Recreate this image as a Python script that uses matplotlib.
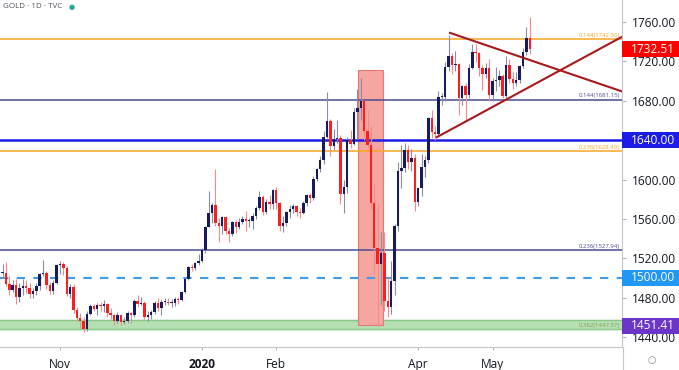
import matplotlib.pyplot as plt
import matplotlib.transforms as mtransforms
from matplotlib.patches import Rectangle
import numpy as np
import pandas as pd

plt.rcParams['font.family'] = ['Open Sans', 'DejaVu Sans']

# daily bars, Oct 8 2019 .. May 18 2020 (no bar on Dec 25 / Jan 1)
dates = pd.bdate_range('2019-10-08', '2020-05-18')
dates = dates[~dates.isin(pd.to_datetime(['2019-12-25', '2020-01-01']))]

opens = [
    1494, 1505, 1505, 1494, 1488, 1493, 1481, 1490, 1492, 1490, 1484, 1487, 1492, 1504, 1505, 1493, 1487, 1495,
    1513, 1514, 1510, 1484, 1491, 1467, 1459, 1456, 1448, 1463, 1471, 1468, 1472, 1471, 1474, 1464, 1462, 1456, 1462, 1455, 1456,
    1464, 1462, 1477, 1474, 1475, 1460, 1462, 1465, 1475, 1469, 1476, 1476, 1475, 1475, 1479, 1478, 1486, 1499, 1511, 1510, 1515,
    1517, 1528, 1552, 1566, 1574, 1556, 1553, 1562, 1548, 1545, 1557, 1552, 1557, 1560, 1558, 1558, 1563, 1571, 1582, 1567, 1577, 1575,
    1589, 1576, 1553, 1556, 1567, 1570, 1573, 1567, 1566, 1576, 1584, 1581, 1601, 1611, 1620, 1643, 1659, 1634, 1641, 1642,
    1585, 1592, 1640, 1636, 1669, 1673, 1680, 1649, 1635, 1576, 1530, 1514, 1525, 1477, 1470, 1497, 1553, 1609, 1612, 1630, 1618, 1622,
    1577, 1591, 1613, 1620, 1663, 1648, 1646, 1684, 1684, 1714, 1726, 1716, 1717, 1683, 1695, 1686, 1713, 1730, 1729, 1713, 1707, 1713,
    1686, 1700, 1701, 1705, 1685, 1716, 1702, 1698, 1701, 1715, 1730, 1744,
]
highs = [
    1507, 1514, 1516, 1502, 1498, 1499, 1495, 1499, 1498, 1495, 1490, 1495, 1505, 1518, 1507, 1496, 1498, 1514,
    1517, 1516, 1512, 1494, 1494, 1470, 1464, 1460, 1466, 1474, 1473, 1475, 1476, 1478, 1475, 1469, 1463, 1465, 1463, 1460, 1466,
    1465, 1479, 1483, 1481, 1477, 1466, 1467, 1477, 1480, 1479, 1480, 1480, 1479, 1481, 1481, 1487, 1500, 1512, 1514, 1516, 1524,
    1530, 1553, 1588, 1576, 1611, 1561, 1563, 1563, 1551, 1558, 1559, 1561, 1563, 1568, 1561, 1566, 1573, 1588, 1584, 1580, 1584, 1590,
    1592, 1577, 1563, 1568, 1574, 1575, 1574, 1571, 1578, 1585, 1586, 1604, 1612, 1624, 1649, 1689, 1661, 1651, 1660, 1645,
    1600, 1643, 1650, 1673, 1692, 1703, 1681, 1671, 1654, 1595, 1575, 1547, 1547, 1500, 1517, 1555, 1618, 1635, 1637, 1635, 1631, 1626,
    1592, 1626, 1624, 1664, 1671, 1654, 1690, 1688, 1719, 1747, 1729, 1731, 1718, 1696, 1698, 1717, 1738, 1738, 1730, 1716, 1718, 1722,
    1703, 1714, 1711, 1707, 1726, 1722, 1709, 1709, 1716, 1734, 1755, 1765,
]
lows = [
    1490, 1500, 1492, 1483, 1486, 1474, 1476, 1483, 1485, 1480, 1480, 1483, 1488, 1502, 1489, 1484, 1484, 1494,
    1504, 1503, 1482, 1480, 1464, 1456, 1449, 1445, 1446, 1462, 1466, 1462, 1466, 1465, 1460, 1458, 1452, 1454, 1452, 1453, 1454,
    1454, 1460, 1470, 1472, 1458, 1456, 1458, 1463, 1466, 1462, 1472, 1472, 1470, 1471, 1474, 1477, 1485, 1498, 1507, 1508, 1513,
    1516, 1525, 1552, 1556, 1553, 1536, 1545, 1545, 1536, 1543, 1546, 1550, 1555, 1548, 1552, 1550, 1560, 1569, 1564, 1565, 1570, 1570,
    1570, 1548, 1547, 1553, 1561, 1566, 1563, 1561, 1565, 1573, 1576, 1579, 1598, 1608, 1616, 1642, 1624, 1630, 1637, 1575,
    1566, 1586, 1632, 1635, 1641, 1660, 1640, 1632, 1570, 1504, 1451, 1472, 1466, 1460, 1463, 1483, 1548, 1591, 1608, 1611, 1609, 1568,
    1573, 1583, 1603, 1617, 1642, 1640, 1644, 1676, 1680, 1710, 1707, 1710, 1666, 1676, 1659, 1683, 1712, 1719, 1705, 1691, 1703, 1680,
    1680, 1690, 1695, 1683, 1683, 1698, 1692, 1695, 1698, 1713, 1727, 1728,
]
closes = [
    1505, 1505, 1494, 1488, 1493, 1481, 1490, 1492, 1490, 1484, 1487, 1492, 1504, 1505, 1493, 1487, 1495, 1513,
    1514, 1510, 1484, 1491, 1467, 1459, 1456, 1448, 1463, 1471, 1468, 1472, 1471, 1474, 1464, 1462, 1456, 1462, 1455, 1456, 1464,
    1462, 1477, 1474, 1475, 1460, 1462, 1465, 1475, 1469, 1476, 1476, 1475, 1475, 1479, 1478, 1486, 1499, 1511, 1510, 1515, 1517,
    1528, 1552, 1566, 1574, 1556, 1553, 1562, 1548, 1545, 1557, 1552, 1557, 1560, 1558, 1558, 1563, 1571, 1582, 1567, 1577, 1575, 1589,
    1576, 1553, 1556, 1567, 1570, 1573, 1567, 1566, 1576, 1584, 1581, 1601, 1611, 1620, 1643, 1659, 1634, 1641, 1642, 1585,
    1592, 1640, 1636, 1669, 1673, 1680, 1649, 1635, 1576, 1530, 1514, 1525, 1477, 1470, 1497, 1553, 1609, 1612, 1630, 1618, 1622, 1577,
    1591, 1613, 1620, 1663, 1648, 1646, 1684, 1684, 1714, 1726, 1716, 1717, 1683, 1695, 1686, 1713, 1730, 1729, 1713, 1707, 1713, 1686,
    1700, 1701, 1705, 1685, 1716, 1702, 1698, 1701, 1715, 1730, 1744, 1732.51,
]

# horizontal studies
fib_levels = [1742.50, 1681.15, 1628.49, 1527.94]
fib_labels = ['0.144(1742.50)', '0.144(1681.15)', '0.236(1628.49)', '0.236(1527.94)']
fib_colors = ['#f5a623', '#4a4a94', '#f5a623', '#4a4a94']
support_zone = [1448, 1457]
support_label = '0.382(1447.57)'
level_1640 = 1640
level_1500 = 1500

# March highlight box (bar index, price) and triangle trendlines
box_x = [106.2, 113.6]
box_y = [1452, 1711]
tri_upper_x = [133.4, 184.3]
tri_upper_y = [1749, 1689.5]
tri_lower_x = [129.5, 184.3]
tri_lower_y = [1643, 1745]

# price tags on the right scale
tag_values = [1732.51, 1640.00, 1500.00, 1451.41]
tag_colors = ['#ff0000', '#1c1ce8', '#2196f3', '#6a35c8']

month_ticks = ['2019-11', '2020-01', '2020-02', '2020-04', '2020-05']
month_labels = ['Nov', '2020', 'Feb', 'Apr', 'May']

o = np.array(opens, float)
h = np.array(highs, float)
l = np.array(lows, float)
c = np.array(closes, float)
x = np.arange(len(dates))
up = c >= o

fig = plt.figure(figsize=(6.79, 3.70), dpi=100)
ax = fig.add_axes([0, 23 / 370, 622 / 679, 347 / 370])
ax.set_xlim(0.25, 184.3)
ax.set_ylim(1429.8, 1782.4)

# zones and lines
ax.axhspan(support_zone[0], support_zone[1], color='#b5e0b3', zorder=1)
ax.axhline(support_zone[0], color='#8cc78a', lw=1, zorder=1.1)
ax.axhline(support_zone[1], color='#8cc78a', lw=1, zorder=1.1)
ax.add_patch(Rectangle((box_x[0], box_y[0]), box_x[1] - box_x[0], box_y[1] - box_y[0],
                       facecolor='#f5a6a0', edgecolor='#e27a74', lw=0.8, zorder=1.2))
for lev, col in zip(fib_levels, fib_colors):
    ax.axhline(lev, color=col, lw=1.1, zorder=1.5)
ax.axhline(level_1640, color='#1c1ce8', lw=1.8, zorder=1.5)
ax.axhline(level_1500, color='#3d9be9', lw=1.5, ls=(0, (4, 4)), zorder=1.5)

# candles
ax.vlines(x[up], l[up], h[up], color='#8a8ca8', lw=0.8, zorder=2)
ax.vlines(x[~up], l[~up], h[~up], color='#f58a8a', lw=0.8, zorder=2)
body = np.maximum(np.abs(c - o), 0.8)
ax.bar(x[up], body[up], bottom=np.minimum(o, c)[up], width=0.72, color='#161b5e', zorder=3)
ax.bar(x[~up], body[~up], bottom=np.minimum(o, c)[~up], width=0.72, color='#fb1e1e', zorder=3)

# triangle
ax.plot(tri_upper_x, tri_upper_y, color='#a8181c', lw=1.5, zorder=4)
ax.plot(tri_lower_x, tri_lower_y, color='#a8181c', lw=1.5, zorder=4)

# fib labels
for lev, lab, col in zip(fib_levels, fib_labels, fib_colors):
    ax.text(183.6, lev + 1.5, lab, ha='right', va='bottom', fontsize=4.3, color=col, zorder=5)
ax.text(183.6, support_zone[0] + 1.2, support_label, ha='right', va='bottom',
        fontsize=4.3, color='#8a9a50', zorder=5)

# axes styling
for side in ['top', 'left']:
    ax.spines[side].set_visible(False)
for side in ['bottom', 'right']:
    ax.spines[side].set_color('#c5c7cc')
ax.yaxis.tick_right()
ax.set_yticks(np.arange(1440, 1761, 40))
ax.set_yticklabels(['%.2f' % v for v in np.arange(1440, 1761, 40)])
ax.tick_params(axis='y', length=3, width=0.8, color='#b2b5be', pad=4,
               labelsize=8.6, labelcolor='#131722')

month_str = dates.strftime('%Y-%m')
tick_pos = [int(np.argmax(month_str == m)) for m in month_ticks]
ax.set_xticks(tick_pos)
ax.set_xticklabels(month_labels)
ax.tick_params(axis='x', length=2, width=0.8, color='#b2b5be', pad=6,
               labelsize=8.6, labelcolor='#131722')
ax.get_xticklabels()[1].set_fontweight('bold')

# right-scale price tags
trans = mtransforms.blended_transform_factory(ax.transAxes, ax.transData)
tag_w = (679 - 622) / 622
tag_h = 16.3
for val, col in zip(tag_values, tag_colors):
    ax.add_patch(Rectangle((1.0, val - tag_h / 2), tag_w, tag_h, transform=trans,
                           facecolor=col, edgecolor='none', clip_on=False, zorder=10))
    ax.text(1.0 + 9 / 622, val, '%.2f' % val, transform=trans, ha='left', va='center',
            fontsize=8.6, color='white', clip_on=False, zorder=11)

# scale divider continues to the bottom
fig.add_artist(plt.Line2D([622.5 / 679, 622.5 / 679], [0, 23 / 370], color='#c5c7cc', lw=0.8))

fig.text(3 / 679, 1 - 7 / 370, 'GOLD · 1D · TVC', fontsize=5.8, color='#50535e', va='center')
fig.text(72 / 679, 1 - 7 / 370, '●', fontsize=5, color='#26a69a', va='center', ha='center')
fig.text(652 / 679, 1 - 360 / 370, '○', fontsize=7, color='#80838c', va='center', ha='center')

fig.savefig('out.png', dpi=100)
